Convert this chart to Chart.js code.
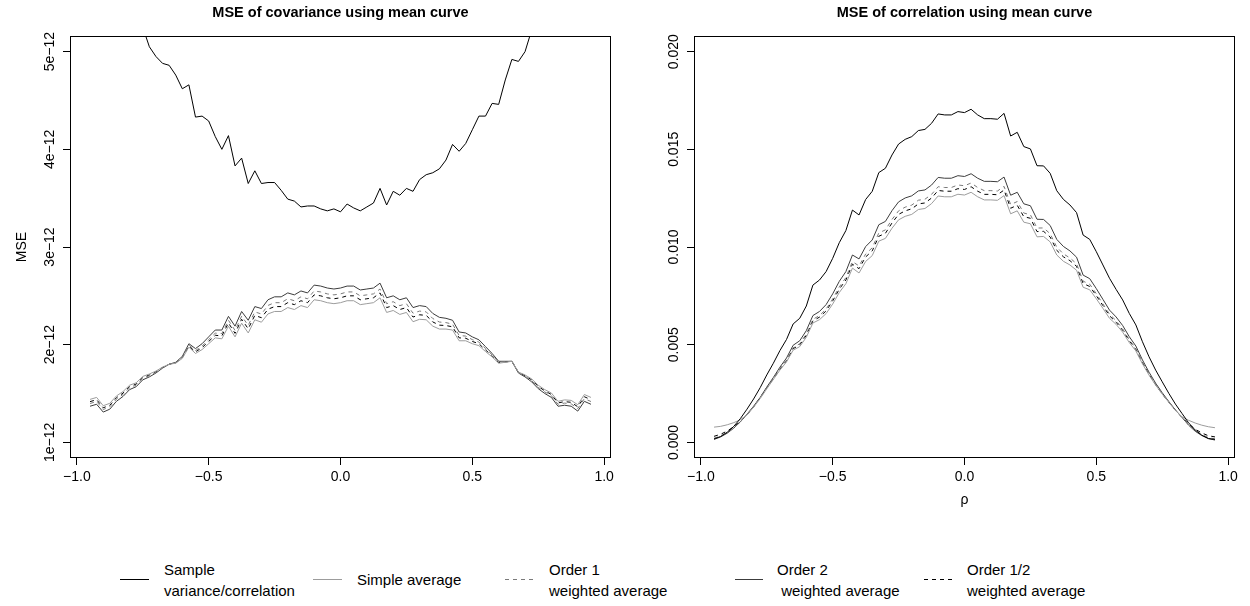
<!DOCTYPE html>
<html><head><meta charset="utf-8">
<script src="https://cdn.jsdelivr.net/npm/chart.js@4.4.1/dist/chart.umd.min.js"></script>
<style>
html,body{margin:0;padding:0;background:#fff;width:1250px;height:606px;overflow:hidden;font-family:"Liberation Sans",Arial,sans-serif;}
canvas{position:absolute;top:0;}
#c1{left:0;width:625px;height:520px;}
#c2{left:625px;width:625px;height:520px;}
.leg{position:absolute;font-size:15px;line-height:21px;color:#000;white-space:pre;}
svg.ls{position:absolute;overflow:visible;}
</style></head><body>
<canvas id="c1" width="625" height="520"></canvas>
<canvas id="c2" width="625" height="520"></canvas>
<div id="legend"></div>
<script>
// ---- data ----
const rho = [-0.95,-0.925,-0.9,-0.875,-0.85,-0.825,-0.8,-0.775,-0.75,-0.725,-0.7,-0.675,-0.65,-0.625,-0.6,-0.575,-0.55,-0.525,-0.5,-0.475,-0.45,-0.425,-0.4,-0.375,-0.35,-0.325,-0.3,-0.275,-0.25,-0.225,-0.2,-0.175,-0.15,-0.125,-0.1,-0.075,-0.05,-0.025,0,0.025,0.05,0.075,0.1,0.125,0.15,0.175,0.2,0.225,0.25,0.275,0.3,0.325,0.35,0.375,0.4,0.425,0.45,0.475,0.5,0.525,0.55,0.575,0.6,0.625,0.65,0.675,0.7,0.725,0.75,0.775,0.8,0.825,0.85,0.875,0.9,0.925,0.95];

// covariance MSE, in units of 1e-12
const covSample = [7.0,6.75,6.5,6.3,6.05,5.85,5.65,5.45,5.25,5.05,4.95,4.88,4.86,4.76,4.62,4.66,4.33,4.34,4.29,4.13,4.00,4.14,3.83,3.91,3.65,3.78,3.65,3.66,3.66,3.58,3.49,3.47,3.41,3.42,3.42,3.39,3.37,3.39,3.36,3.44,3.40,3.37,3.41,3.45,3.60,3.43,3.57,3.53,3.60,3.57,3.69,3.74,3.76,3.80,3.89,4.05,3.98,4.06,4.20,4.34,4.34,4.47,4.46,4.71,4.92,4.90,5.00,5.22,5.40,5.60,5.80,6.00,6.25,6.45,6.70,6.90,7.10];
const covSimple = [1.44,1.46,1.375,1.40,1.475,1.52,1.585,1.61,1.675,1.70,1.73,1.77,1.80,1.81,1.86,1.975,1.91,1.95,2.01,2.07,2.06,2.19,2.08,2.22,2.12,2.255,2.23,2.315,2.34,2.34,2.38,2.36,2.40,2.38,2.46,2.45,2.43,2.42,2.43,2.45,2.45,2.41,2.42,2.43,2.48,2.33,2.35,2.31,2.33,2.235,2.26,2.255,2.19,2.16,2.16,2.15,2.04,2.04,2.01,1.99,1.93,1.875,1.81,1.82,1.83,1.72,1.69,1.65,1.585,1.54,1.505,1.42,1.435,1.43,1.385,1.49,1.46];
const covOrder1 = [1.398,1.418,1.336,1.364,1.442,1.49,1.558,1.586,1.654,1.682,1.718,1.764,1.80,1.816,1.872,1.996,1.94,1.986,2.052,2.118,2.114,2.25,2.146,2.292,2.198,2.336,2.314,2.402,2.43,2.43,2.47,2.45,2.49,2.47,2.55,2.54,2.52,2.51,2.52,2.54,2.54,2.50,2.51,2.52,2.57,2.42,2.44,2.40,2.42,2.322,2.344,2.336,2.268,2.232,2.226,2.21,2.094,2.088,2.052,2.026,1.96,1.896,1.822,1.826,1.83,1.714,1.678,1.632,1.564,1.516,1.478,1.39,1.402,1.394,1.346,1.448,1.418];
const covOrder2 = [1.37,1.39,1.31,1.34,1.42,1.47,1.54,1.57,1.64,1.67,1.71,1.76,1.80,1.82,1.88,2.01,1.96,2.01,2.08,2.15,2.15,2.29,2.19,2.34,2.25,2.39,2.37,2.46,2.49,2.49,2.53,2.51,2.55,2.53,2.61,2.60,2.58,2.57,2.58,2.60,2.60,2.56,2.57,2.58,2.63,2.48,2.50,2.46,2.48,2.38,2.40,2.39,2.32,2.28,2.27,2.25,2.13,2.12,2.08,2.05,1.98,1.91,1.83,1.83,1.83,1.71,1.67,1.62,1.55,1.50,1.46,1.37,1.38,1.37,1.32,1.42,1.39];
const covOrderHalf = [1.417,1.437,1.354,1.38,1.457,1.504,1.57,1.597,1.663,1.69,1.723,1.767,1.80,1.813,1.867,1.987,1.926,1.97,2.033,2.096,2.09,2.223,2.116,2.26,2.163,2.30,2.276,2.363,2.39,2.39,2.43,2.41,2.45,2.43,2.51,2.50,2.48,2.47,2.48,2.50,2.50,2.46,2.47,2.48,2.53,2.38,2.40,2.36,2.38,2.283,2.306,2.30,2.233,2.20,2.196,2.183,2.07,2.066,2.033,2.01,1.946,1.887,1.817,1.823,1.83,1.717,1.683,1.64,1.573,1.527,1.49,1.404,1.417,1.41,1.364,1.467,1.437];

// correlation MSE, in units of 1e-3
const corSample = [0.18,0.30,0.52,0.82,1.22,1.70,2.22,2.80,3.45,4.05,4.70,5.27,6.06,6.35,6.98,8.05,8.31,8.74,9.42,10.22,10.84,11.89,11.64,12.43,12.85,13.81,14.03,14.71,15.27,15.51,15.65,15.96,16.02,16.33,16.81,16.76,16.76,16.93,16.88,17.05,16.76,16.57,16.57,16.54,16.84,15.68,15.87,15.14,15.02,14.16,14.15,13.77,12.88,12.44,12.15,11.76,10.61,10.39,9.76,9.08,8.40,7.83,7.29,6.60,6.01,5.15,4.38,3.70,3.10,2.51,1.96,1.48,1.00,0.63,0.37,0.20,0.15];
const corSimple = [0.78,0.82,0.90,1.01,1.16,1.40,1.80,2.24,2.74,3.22,3.70,4.12,4.72,4.90,5.38,6.11,6.28,6.59,7.08,7.67,8.12,8.92,8.67,9.26,9.56,10.30,10.44,10.96,11.39,11.57,11.67,11.92,11.97,12.22,12.61,12.57,12.57,12.70,12.66,12.80,12.57,12.41,12.41,12.39,12.63,11.70,11.85,11.27,11.19,10.52,10.54,10.26,9.59,9.27,9.08,8.81,7.94,7.81,7.35,6.86,6.35,6.04,5.64,5.11,4.68,4.02,3.44,2.93,2.47,2.05,1.63,1.31,1.13,0.99,0.88,0.80,0.75];
const corOrder1 = [0.21,0.334,0.51,0.76,1.06,1.42,1.825,2.29,2.80,3.27,3.775,4.22,4.845,5.05,5.55,6.30,6.49,6.82,7.34,7.955,8.43,9.255,9.03,9.64,9.96,10.72,10.875,11.41,11.85,12.04,12.145,12.395,12.445,12.695,13.085,13.045,13.045,13.175,13.135,13.275,13.045,12.885,12.885,12.865,13.105,12.175,12.325,11.74,11.65,10.97,10.975,10.68,9.99,9.65,9.44,9.145,8.25,8.095,7.61,7.09,6.56,6.23,5.81,5.26,4.805,4.12,3.515,2.975,2.50,2.065,1.645,1.282,0.905,0.61,0.40,0.25,0.18];
const corOrder2 = [0.15,0.28,0.47,0.73,1.05,1.44,1.85,2.30,2.83,3.32,3.85,4.32,4.97,5.20,5.72,6.49,6.70,7.05,7.60,8.24,8.74,9.59,9.39,10.02,10.36,11.14,11.31,11.86,12.31,12.51,12.62,12.87,12.92,13.17,13.56,13.52,13.52,13.65,13.61,13.75,13.52,13.36,13.36,13.34,13.58,12.65,12.80,12.21,12.11,11.42,11.41,11.10,10.39,10.03,9.80,9.48,8.56,8.38,7.87,7.32,6.77,6.42,5.98,5.41,4.93,4.22,3.59,3.03,2.54,2.09,1.66,1.28,0.88,0.57,0.35,0.19,0.12];
const corOrderHalf = [0.31,0.415,0.58,0.80,1.08,1.41,1.815,2.29,2.79,3.25,3.745,4.18,4.795,4.99,5.48,6.22,6.41,6.73,7.24,7.84,8.31,9.12,8.89,9.49,9.80,10.55,10.70,11.23,11.67,11.85,11.955,12.205,12.255,12.505,12.895,12.855,12.855,12.985,12.945,13.085,12.855,12.695,12.695,12.675,12.915,11.985,12.135,11.55,11.47,10.79,10.80,10.51,9.83,9.50,9.30,9.01,8.13,7.98,7.51,7.00,6.48,6.15,5.74,5.20,4.755,4.08,3.485,2.95,2.48,2.055,1.64,1.285,0.94,0.675,0.48,0.34,0.28];

const xTickVals = [-1, -0.5, 0, 0.5, 1];
const xTickLabels = ["\u22121.0", "\u22120.5", "0.0", "0.5", "1.0"];
const covTickVals = [1, 2, 3, 4, 5];
const covTickLabels = ["1e\u221212", "2e\u221212", "3e\u221212", "4e\u221212", "5e\u221212"];
const corTickVals = [0, 5, 10, 15, 20];
const corTickLabels = ["0.000", "0.005", "0.010", "0.015", "0.020"];
const seriesNames = ["Sample\nvariance/correlation", "Simple average", "Order 1\nweighted average", "Order 2\n weighted average", "Order 1/2\nweighted average"];
const titles = ["MSE of covariance using mean curve", "MSE of correlation using mean curve"];

// ---- styles ----
const FONT = '"Liberation Sans", Arial, Helvetica, sans-serif';
const seriesStyle = [
  {color:'#000000', dash:[]},
  {color:'#9c9c9c', dash:[]},
  {color:'#7a7a7a', dash:[4,4]},
  {color:'#3c3c3c', dash:[]},
  {color:'#000000', dash:[4,4]}
];
Chart.defaults.font.family = FONT;
Chart.defaults.color = '#000';

const textPlugin = {
  id: 'texts',
  afterDraw(chart, args, o) {
    const ctx = chart.ctx, a = chart.chartArea, ys = chart.scales.y;
    ctx.save();
    ctx.strokeStyle = '#000'; ctx.lineWidth = 1;
    ctx.strokeRect(Math.round(a.left) + 0.5, Math.round(a.top) + 0.5, Math.round(a.right - a.left) - 1, Math.round(a.bottom - a.top) - 1);
    ctx.fillStyle = '#000';
    ctx.textAlign = 'center'; ctx.textBaseline = 'middle';
    ctx.font = 'bold 14.5px ' + FONT;
    ctx.fillText(o.title, (a.left + a.right) / 2, 13);
    ctx.font = '14px ' + FONT;
    o.yTicks.forEach((v, k) => {
      const y = ys.getPixelForValue(v);
      ctx.save(); ctx.translate(a.left - 20, y); ctx.rotate(-Math.PI / 2);
      ctx.fillText(o.yLabels[k], 0, 0); ctx.restore();
    });
    if (o.ylab) { ctx.save(); ctx.translate(22, (a.top + a.bottom) / 2); ctx.rotate(-Math.PI / 2); ctx.fillText(o.ylab, 0, 0); ctx.restore(); }
    if (o.xlab) { ctx.fillText(o.xlab, (a.left + a.right) / 2, 500); }
    ctx.restore();
  }
};

function makeDatasets(list) {
  return list.map((vals, s) => ({
    label: seriesNames[s],
    data: rho.map((x, i) => ({x: x, y: vals[i]})),
    borderColor: seriesStyle[s].color,
    borderDash: seriesStyle[s].dash,
    borderWidth: 1, pointRadius: 0, fill: false, tension: 0
  }));
}

function makeChart(id, list, yMin, yMax, yTicks, yLabels, title, yW, padR, ylab, xlab) {
  const gridOpts = {display: true, drawOnChartArea: false, drawTicks: true, tickLength: 7, color: '#000', tickColor: '#000', lineWidth: 1};
  return new Chart(document.getElementById(id), {
    type: 'line',
    data: {datasets: makeDatasets(list)},
    options: {
      responsive: false, animation: false, devicePixelRatio: 1,
      layout: {padding: {left: 0, right: padR, top: 36, bottom: 0}},
      plugins: {legend: {display: false}, tooltip: {enabled: false},
        texts: {title: title, yTicks: yTicks, yLabels: yLabels, ylab: ylab, xlab: xlab}},
      scales: {
        x: {type: 'linear', min: -1.026, max: 1.026,
          afterBuildTicks: s => { s.ticks = xTickVals.map(v => ({value: v})); },
          ticks: {font: {size: 14}, color: '#000', padding: 3.6, maxRotation: 0, minRotation: 0, autoSkip: false,
            callback: (v, i) => xTickLabels[i]},
          grid: gridOpts, border: {display: false},
          afterFit: s => { s.height = 62; }},
        y: {type: 'linear', min: yMin, max: yMax,
          afterBuildTicks: s => { s.ticks = yTicks.map(v => ({value: v})); },
          ticks: {display: false},
          grid: gridOpts, border: {display: false},
          afterFit: s => { s.width = yW; }}
      }
    },
    plugins: [textPlugin]
  });
}

makeChart('c1', [covSample, covSimple, covOrder1, covOrder2, covOrderHalf], 0.84, 5.16, covTickVals, covTickLabels, titles[0], 70, 14, 'MSE', null);
makeChart('c2', [corSample, corSimple, corOrder1, corOrder2, corOrderHalf], -0.8, 20.8, corTickVals, corTickLabels, titles[1], 69, 15, null, '\u03C1');

// ---- legend ----
const legLine = [[120,149],[313,342],[505,535],[735,763],[924,953]];
const legText = [164, 357, 549, 777, 967];
const legDiv = document.getElementById('legend');
seriesNames.forEach((name, s) => {
  const st = seriesStyle[s];
  const svgNS = 'http://www.w3.org/2000/svg';
  const svg = document.createElementNS(svgNS, 'svg');
  svg.setAttribute('class', 'ls');
  svg.setAttribute('width', legLine[s][1] - legLine[s][0]);
  svg.setAttribute('height', 10);
  svg.style.left = legLine[s][0] + 'px'; svg.style.top = '574px';
  const ln = document.createElementNS(svgNS, 'line');
  ln.setAttribute('x1', 0); ln.setAttribute('x2', legLine[s][1] - legLine[s][0]);
  ln.setAttribute('y1', 5.5); ln.setAttribute('y2', 5.5);
  ln.setAttribute('stroke', st.color); ln.setAttribute('stroke-width', 1);
  if (st.dash.length) ln.setAttribute('stroke-dasharray', st.dash.join(' '));
  svg.appendChild(ln);
  legDiv.appendChild(svg);
  const d = document.createElement('div');
  d.className = 'leg';
  const lines = name.split('\n').length;
  d.style.left = legText[s] + 'px';
  d.style.top = (lines === 2 ? 558.5 : 569) + 'px';
  d.textContent = name;
  legDiv.appendChild(d);
});
</script>
</body></html>
